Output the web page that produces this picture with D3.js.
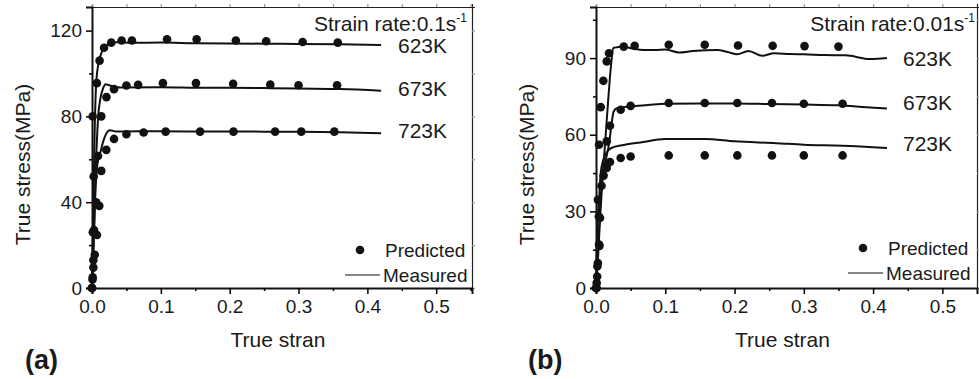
<!DOCTYPE html>
<html>
<head>
<meta charset="utf-8">
<script src="https://cdn.jsdelivr.net/npm/d3@7"></script>
<style>
  body { margin: 0; background: #fff; }
  svg text { font-family: "Liberation Sans", Arial, sans-serif; fill: #1a1a1a; }
</style>
</head>
<body>
<div id="chart"></div>
<script>
// temperatures shown in both panels
const temps = ["623K", "673K", "723K"];

// panel (a), strain rate 0.1 s-1 : [strain, stress MPa]
const predA623 = [[0,0],[0.001,5],[0.002,13],[0.003,27],[0.0024,52],[0.001,80],[0.007,95.5],[0.011,106],[0.0175,112],[0.028,114.4],[0.043,115.4],[0.058,115.4],[0.109,116],[0.152,116],[0.209,115.4],[0.253,115],[0.306,114.7],[0.357,114.4]];
const predA673 = [[0,0],[0.002,9.5],[0.0012,26],[0.006,40],[0.0087,61.5],[0.0135,80],[0.021,89],[0.032,92.7],[0.05,94.4],[0.067,94.7],[0.103,95.5],[0.151,95.5],[0.205,95.2],[0.259,94.8],[0.30,94.5],[0.356,94.5]];
const predA723 = [[0,0],[0.0008,4],[0.004,15.5],[0.0072,24.7],[0.0106,38.3],[0.0135,54.6],[0.0208,64.4],[0.032,69.5],[0.05,71.7],[0.075,72.5],[0.107,72.9],[0.157,72.9],[0.2055,72.9],[0.266,72.9],[0.304,72.9],[0.352,72.9]];
const measA623 = [[0,0],[0.002,40],[0.004,75],[0.006,95],[0.009,104],[0.013,109],[0.018,112],[0.025,114],[0.035,114.6],[0.06,114.3],[0.1,114.4],[0.15,114.1],[0.2,114],[0.25,113.9],[0.3,113.8],[0.36,113.6],[0.42,113.3]];
const measA673 = [[0,0],[0.003,30],[0.006,60],[0.009,80],[0.012,88],[0.016,93],[0.02,95],[0.025,94.5],[0.04,93.5],[0.1,93.6],[0.15,93.4],[0.2,93.3],[0.25,93.2],[0.3,93],[0.36,92.8],[0.42,92]];
const measA723 = [[0,0],[0.003,25],[0.005,45],[0.008,58],[0.012,63],[0.016,68],[0.02,71.5],[0.026,73.5],[0.035,73],[0.1,73.1],[0.15,73],[0.2,73],[0.25,72.9],[0.3,72.8],[0.36,72.6],[0.42,72.2]];

// panel (b), strain rate 0.01 s-1
const predB623 = [[0.001,0],[0.0017,4.5],[0.0027,9.8],[0.0044,17],[0.0058,27.4],[0.0027,34.5],[0.0044,56.1],[0.0068,70.8],[0.0106,81.1],[0.0155,88.7],[0.0188,91.9],[0.04,94.5],[0.0558,94.8],[0.105,95.2],[0.157,95.2],[0.205,94.9],[0.255,94.8],[0.301,94.7],[0.35,94.5]];
const predB673 = [[0,0],[0.001,2],[0.004,28],[0.008,40],[0.0155,57.4],[0.0202,63.5],[0.0356,69.8],[0.05,71.3],[0.105,72.4],[0.157,72.4],[0.204,72.4],[0.254,72.4],[0.30,72.1],[0.356,72.1]];
const predB723 = [[0,0],[0.002,8.5],[0.005,16.5],[0.011,44],[0.0155,47],[0.0202,49.3],[0.0356,50.9],[0.05,51.5],[0.105,51.9],[0.157,51.9],[0.204,51.9],[0.254,51.9],[0.30,51.9],[0.356,51.9]];
const measB623 = [[0,0],[0.003,12],[0.006,28],[0.01,45],[0.014,60],[0.018,75],[0.022,88],[0.025,94],[0.04,94.4],[0.055,93.6],[0.069,93.2],[0.085,93.2],[0.1,93.4],[0.12,92.2],[0.14,92.8],[0.175,93.2],[0.19,92.4],[0.204,91.5],[0.22,92.8],[0.24,90.9],[0.257,91.9],[0.28,91.6],[0.3,91.5],[0.33,91.2],[0.36,91.1],[0.396,89.6],[0.42,90]];
const measB673 = [[0,0],[0.003,15],[0.006,32],[0.01,45],[0.014,50],[0.019,56.8],[0.022,63.2],[0.0255,69.1],[0.03,70.4],[0.05,71.1],[0.075,71.6],[0.1,72.1],[0.15,72.2],[0.2,72.2],[0.25,72],[0.3,71.8],[0.35,71.5],[0.39,70.8],[0.42,70.3]];
const measB723 = [[0,0],[0.0015,21.5],[0.0044,34.5],[0.0068,45],[0.0106,50.2],[0.0145,52.8],[0.022,54.8],[0.04,56],[0.064,57],[0.1,58.3],[0.157,58.3],[0.2,57.4],[0.26,56.7],[0.3,56.1],[0.355,55.7],[0.42,54.8]];

const xTicks = [0, 0.1, 0.2, 0.3, 0.4, 0.5];
const yTicksA = [0, 40, 80, 120];
const yTicksB = [0, 30, 60, 90];

const svg = d3.select("#chart").append("svg")
  .attr("width", 979)
  .attr("height", 379);

function drawPanel(p) {
  const x = d3.scaleLinear().domain(p.xDomain).range([p.left, p.right]);
  const y = d3.scaleLinear().domain(p.yDomain).range([p.bottom, p.top]);
  const g = svg.append("g");

  // minor ticks
  const xMinor = d3.range(0.05, p.xDomain[1], 0.1);
  const yStep = p.yTicks[1] - p.yTicks[0];
  const yMinor = d3.range(yStep / 2, p.yDomain[1], yStep);

  // top and right frame with small ticks
  const top = g.append("g").attr("transform", `translate(0,${p.top})`)
    .call(d3.axisTop(x).tickValues(xTicks.concat(xMinor)).tickSize(3).tickFormat(""));
  const right = g.append("g").attr("transform", `translate(${p.right},0)`)
    .call(d3.axisRight(y).tickValues(p.yTicks.concat(yMinor)).tickSize(3).tickFormat(""));

  // bottom axis
  const xa = g.append("g").attr("transform", `translate(0,${p.bottom})`)
    .call(d3.axisBottom(x).tickValues(xTicks).tickSize(6).tickPadding(6).tickFormat(d3.format(".1f")));
  g.append("g").attr("transform", `translate(0,${p.bottom})`)
    .call(d3.axisBottom(x).tickValues(xMinor).tickSize(3).tickFormat(""))
    .select(".domain").remove();

  // left axis
  const ya = g.append("g").attr("transform", `translate(${p.left},0)`)
    .call(d3.axisLeft(y).tickValues(p.yTicks).tickSize(6).tickPadding(4));
  g.append("g").attr("transform", `translate(${p.left},0)`)
    .call(d3.axisLeft(y).tickValues(yMinor).tickSize(3).tickFormat(""))
    .select(".domain").remove();

  g.selectAll(".domain").attr("stroke", "#111").attr("stroke-width", 2);
  g.selectAll(".tick line").attr("stroke-width", 1.5);
  [xa, ya].forEach(a => a.selectAll("text")
    .style("font-size", "19px")
    .style("font-family", "'Liberation Sans', Arial, sans-serif")
    .attr("fill", "#1a1a1a"));
  [top, right].forEach(a => {
    a.selectAll(".domain, .tick line").attr("stroke-width", 1.2);
    a.select(".domain").attr("stroke", "#222");
    a.selectAll(".tick line").attr("stroke", "#999");
  });

  // measured curves
  p.measured.forEach(s => {
    g.append("path")
      .datum(s)
      .attr("fill", "none")
      .attr("stroke", "#111")
      .attr("stroke-width", 2)
      .attr("stroke-linejoin", "round")
      .attr("d", d3.line().x(d => x(d[0])).y(d => y(d[1])).curve(d3.curveMonotoneX));
  });

  // predicted points
  p.predicted.forEach(s => {
    g.selectAll(null)
      .data(s)
      .enter()
      .append("circle")
      .attr("cx", d => x(d[0]))
      .attr("cy", d => y(d[1]))
      .attr("r", 4.3)
      .attr("fill", "#111");
  });

  // temperature labels
  temps.forEach((t, i) => {
    g.append("text")
      .attr("x", p.tempX)
      .attr("y", p.tempY[i])
      .style("font-size", "21px")
      .text(t);
  });

  // strain rate note
  const sr = g.append("text")
    .attr("x", p.rateX)
    .attr("y", 31)
    .attr("text-anchor", "end")
    .style("font-size", "21px")
    .text(p.rate);
  sr.append("tspan")
    .attr("dy", -9)
    .style("font-size", "12px")
    .text("-1");

  // legend
  g.append("circle").attr("cx", p.legX).attr("cy", p.legY).attr("r", 4.3).attr("fill", "#111");
  g.append("text").attr("x", p.legX + 25).attr("y", p.legY + 7).style("font-size", "19px").text("Predicted");
  g.append("line")
    .attr("x1", p.legX - 15).attr("x2", p.legX + 20)
    .attr("y1", p.legY + 25).attr("y2", p.legY + 25)
    .attr("stroke", "#111").attr("stroke-width", 1.2);
  g.append("text").attr("x", p.legX + 23).attr("y", p.legY + 32).style("font-size", "19px").text("Measured");

  // axis titles
  g.append("text")
    .attr("x", (p.left + p.right) / 2 - 4)
    .attr("y", 347)
    .attr("text-anchor", "middle")
    .style("font-size", "21px")
    .text("True stran");
  g.append("text")
    .attr("transform", `translate(${p.left - 62},${(p.top + p.bottom) / 2 + 17}) rotate(-90)`)
    .attr("text-anchor", "middle")
    .style("font-size", "21px")
    .text("True stress(MPa)");

  // panel tag
  g.append("text")
    .attr("x", p.tagX)
    .attr("y", 369)
    .style("font-size", "27px")
    .style("font-weight", "bold")
    .text(p.tag);
}

drawPanel({
  left: 92, right: 472, top: 7, bottom: 288,
  xDomain: [0, 0.552], yDomain: [0, 131], yTicks: yTicksA,
  predicted: [predA623, predA673, predA723],
  measured: [measA623, measA673, measA723],
  tempX: 398, tempY: [53, 96, 138],
  rate: "Strain rate:0.1s", rateX: 467,
  legX: 360, legY: 250,
  tag: "(a)", tagX: 25
});

drawPanel({
  left: 596, right: 977, top: 7, bottom: 288,
  xDomain: [0, 0.55], yDomain: [0, 110], yTicks: yTicksB,
  predicted: [predB623, predB673, predB723],
  measured: [measB623, measB673, measB723],
  tempX: 903, tempY: [66, 110, 151],
  rate: "Strain rate:0.01s", rateX: 975,
  legX: 863, legY: 248,
  tag: "(b)", tagX: 528
});
</script>
</body>
</html>
